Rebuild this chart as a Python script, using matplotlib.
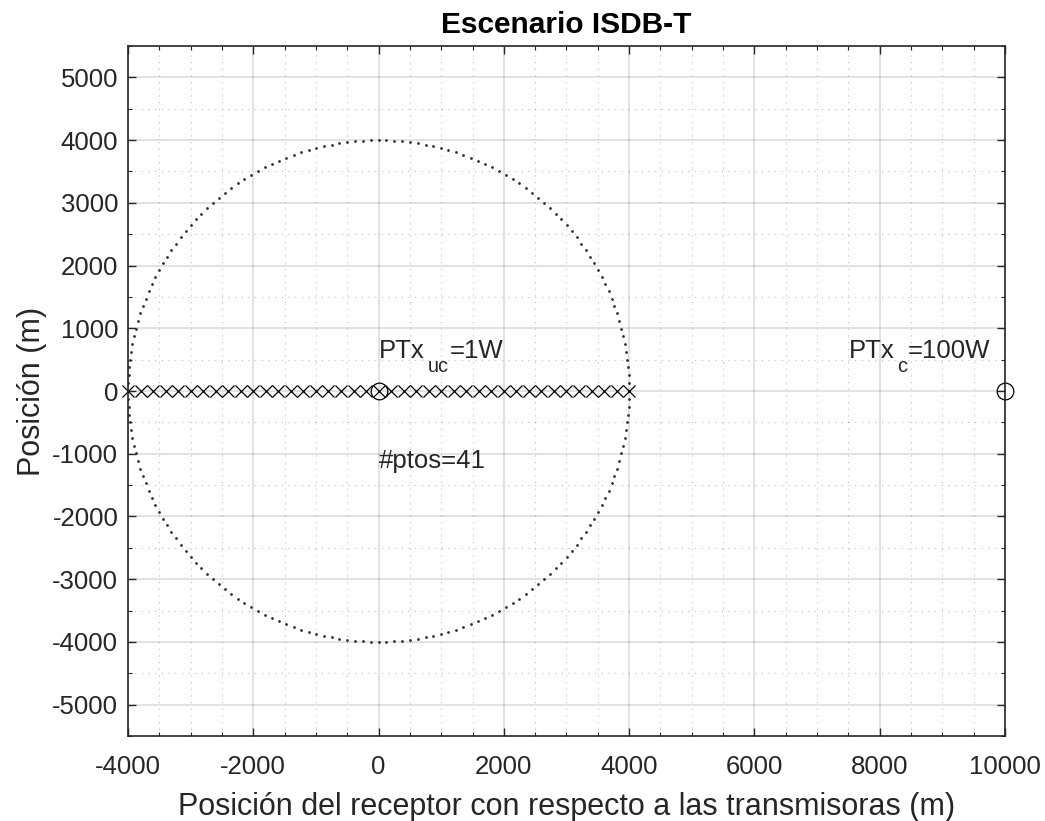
import numpy as np
import matplotlib
matplotlib.use('Agg')
import matplotlib.pyplot as plt
from matplotlib.ticker import MultipleLocator

plt.rcParams['font.family'] = ['Liberation Sans', 'DejaVu Sans']
plt.rcParams['axes.unicode_minus'] = False

# Datos del escenario
radio_cobertura = 4000          # radio de la celda (m)
n_ptos = 41                     # puntos de medición del receptor
pos_receptor = np.linspace(-radio_cobertura, radio_cobertura, n_ptos)
tx_x = [0, 10000]               # transmisora sin cobertura (uc) y con cobertura (c)
tx_y = [0, 0]
etiquetas_tx = [('PTx', 'uc', '=1W'), ('PTx', 'c', '=100W')]
etiquetas_pos = [(0, 520), (7500, 520)]
texto_ptos = '#ptos=%d' % n_ptos

gris = '#262626'

fig = plt.figure(figsize=(10.45, 8.21), dpi=100)
ax = fig.add_axes([0.1225, 0.1035, 0.8392, 0.8405])

# Circunferencia de cobertura dibujada con puntos
theta = np.linspace(0, 2 * np.pi, 200, endpoint=False)
ax.plot(radio_cobertura * np.cos(theta), radio_cobertura * np.sin(theta),
        '.', color='#333333', markersize=2)

# Posiciones del receptor y transmisoras
ax.plot(pos_receptor, np.zeros_like(pos_receptor), 'x', color='k',
        markersize=9, markeredgewidth=0.9, linestyle='none', clip_on=False)
ax.plot(tx_x, tx_y, 'o', color='k', markerfacecolor='none',
        markersize=12, markeredgewidth=0.9, linestyle='none', clip_on=False)

ax.set_xlim(-4000, 10000)
ax.set_ylim(-5500, 5500)

# Texto con subíndice estilo MATLAB (subíndice más bajo que en mathtext)
renderer = fig.canvas.get_renderer()


def texto_sub(x, y, base, sub, resto, size=18.5):
    t1 = ax.annotate(base, (x, y), fontsize=size, color=gris, va='baseline')
    w1 = t1.get_window_extent(renderer).width
    t2 = ax.annotate(sub, (x, y), xytext=(w1 + 3, -14), textcoords='offset pixels',
                     fontsize=size * 0.78, color=gris, va='baseline')
    w2 = t2.get_window_extent(renderer).width
    ax.annotate(resto, (x, y), xytext=(w1 + 3 + w2 + 1, 0),
                textcoords='offset pixels', fontsize=size, color=gris,
                va='baseline')


for (tx, ty), (b, s, r) in zip(etiquetas_pos, etiquetas_tx):
    texto_sub(tx, ty, b, s, r)
ax.text(0, -1220, texto_ptos, fontsize=18.5, color=gris, va='baseline', ha='left')

ax.xaxis.set_major_locator(MultipleLocator(2000))
ax.yaxis.set_major_locator(MultipleLocator(1000))
ax.xaxis.set_minor_locator(MultipleLocator(500))
ax.yaxis.set_minor_locator(MultipleLocator(500))

ax.grid(True, which='major', color=gris, alpha=0.15, linewidth=1.3)
ax.grid(True, which='minor', color=gris, alpha=0.3, linewidth=0.8,
        linestyle=(0, (1, 5)))
ax.set_axisbelow(True)

ax.tick_params(which='both', direction='in', top=True, right=True,
               colors=gris, labelsize=18.5)
ax.tick_params(which='major', length=6, width=1)
ax.tick_params(which='minor', length=3, width=0.8)
ax.tick_params(axis='x', which='major', pad=14)
ax.tick_params(axis='y', which='major', pad=7)
for s in ax.spines.values():
    s.set_color(gris)
    s.set_linewidth(1.2)

ax.set_title('Escenario ISDB-T', fontsize=21.5, fontweight='bold', pad=9)
ax.set_xlabel('Posición del receptor con respecto a las transmisoras (m)',
              fontsize=22, color=gris, labelpad=9)
ax.set_ylabel('Posición (m)', fontsize=22, color=gris, labelpad=4)

fig.savefig('out.png', dpi=100)
